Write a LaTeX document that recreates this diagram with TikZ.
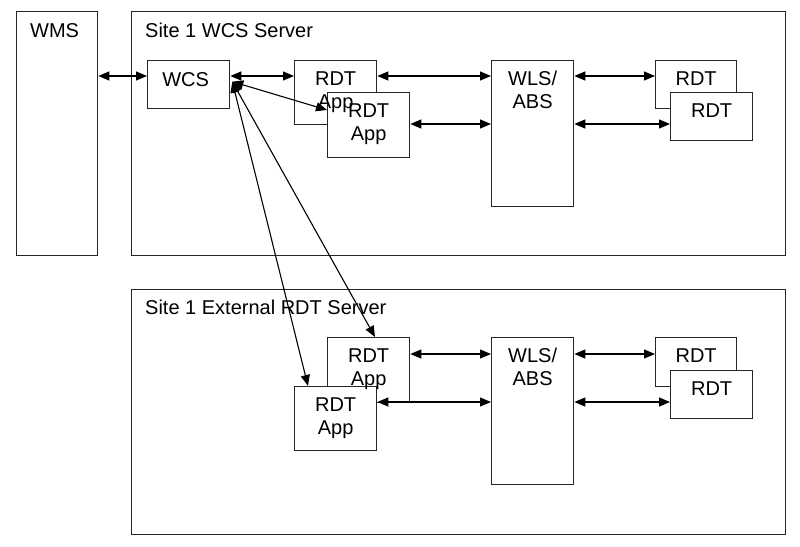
\documentclass[tikz,border=0pt]{standalone}
\usepackage{fontspec}
\setmainfont{Liberation Sans}
\usetikzlibrary{arrows.meta,calc}
\begin{document}
\begin{tikzpicture}[x=1pt,y=-1pt,
  box/.style={draw=black!85,line width=1.3pt,fill=white,inner sep=0pt,anchor=north west},
  lbl/.style={font=\fontsize{20}{23}\selectfont,align=center,inner sep=0pt,anchor=north},
  ttl/.style={font=\fontsize{20}{23}\selectfont,inner sep=0pt,anchor=north west},
  arr/.style={line width=1.1pt,{Triangle[length=11pt,width=9pt]}-{Triangle[length=11pt,width=9pt]}}]
\useasboundingbox (0,0) rectangle (800,546);
\fill[white] (0,0) rectangle (800,546);
% containers
\node[box,minimum width=81pt,minimum height=244pt] (wms) at (16,11) {};
\node[box,minimum width=654pt,minimum height=244pt] (srv1) at (131,11) {};
\node[box,minimum width=654pt,minimum height=245pt] (srv2) at (131,289) {};
% top boxes
\node[box,minimum width=82pt,minimum height=48pt] (wcs) at (147,60) {};
\node[box,minimum width=82pt,minimum height=64pt] (rdtA1) at (294,60) {};
\node[box,minimum width=82pt,minimum height=65pt] (rdtB1) at (327,92) {};
\node[box,minimum width=82pt,minimum height=146pt] (wls1) at (491,60) {};
\node[box,minimum width=81pt,minimum height=48pt] (rA1) at (655,60) {};
\node[box,minimum width=82pt,minimum height=48pt] (rB1) at (670,92) {};
% bottom boxes
\node[box,minimum width=82pt,minimum height=65pt] (rdtA2) at (327,337) {};
\node[box,minimum width=82pt,minimum height=64pt] (rdtB2) at (294,386) {};
\node[box,minimum width=82pt,minimum height=147pt] (wls2) at (491,337) {};
\node[box,minimum width=81pt,minimum height=49pt] (rA2) at (655,337) {};
\node[box,minimum width=82pt,minimum height=48pt] (rB2) at (670,370) {};
% connectors top
\draw[arr] (wms.east |- 0,76) -- (wcs.west |- 0,76);
\draw[arr] (wcs.east |- 0,76) -- (rdtA1.west |- 0,76);
\draw[arr] (rdtA1.east |- 0,76) -- (wls1.west |- 0,76);
\draw[arr] (rdtB1.east |- 0,124) -- (wls1.west |- 0,124);
\draw[arr] (wls1.east |- 0,76) -- (rA1.west |- 0,76);
\draw[arr] (wls1.east |- 0,124) -- (rB1.west |- 0,124);
% connectors bottom
\draw[arr] (rdtA2.east |- 0,354) -- (wls2.west |- 0,354);
\draw[arr] (rdtB2.east |- 0,402) -- (wls2.west |- 0,402);
\draw[arr] (wls2.east |- 0,354) -- (rA2.west |- 0,354);
\draw[arr] (wls2.east |- 0,402) -- (rB2.west |- 0,402);
% diagonal connectors from WCS
\coordinate (wcsp) at ($(wcs.east)+(2,-3)$);
\draw[arr] (wcsp) -- (rdtB1.west |- 0,110);
\draw[arr] (wcsp) -- ($(rdtA2.north west)+(48,0)$);
\draw[arr] (wcsp) -- ($(rdtB2.north west)+(14,0)$);
% texts
\node[ttl] at ($(wms.north west)+(14,12)$) {WMS};
\node[ttl] at ($(srv1.north west)+(14,12)$) {Site 1 WCS Server};
\node[ttl] at ($(srv2.north west)+(14,11)$) {Site 1 External RDT Server};
\node[lbl] at ($(wcs.north)+(-3,12)$) {WCS};
\node[lbl] at ($(rdtA1.north)+(0,12)$) {RDT\\App};
\node[lbl] at ($(rdtB1.north)+(0,12)$) {RDT\\App};
\node[lbl] at ($(wls1.north)+(0,11)$) {WLS/\\ABS};
\node[lbl] at ($(rA1.north)+(0,12)$) {RDT};
\node[lbl] at ($(rB1.north)+(0,12)$) {RDT};
\node[lbl] at ($(rdtA2.north)+(0,12)$) {RDT\\App};
\node[lbl] at ($(rdtB2.north)+(0,12)$) {RDT\\App};
\node[lbl] at ($(wls2.north)+(0,11)$) {WLS/\\ABS};
\node[lbl] at ($(rA2.north)+(0,12)$) {RDT};
\node[lbl] at ($(rB2.north)+(0,12)$) {RDT};
\end{tikzpicture}
\end{document}
